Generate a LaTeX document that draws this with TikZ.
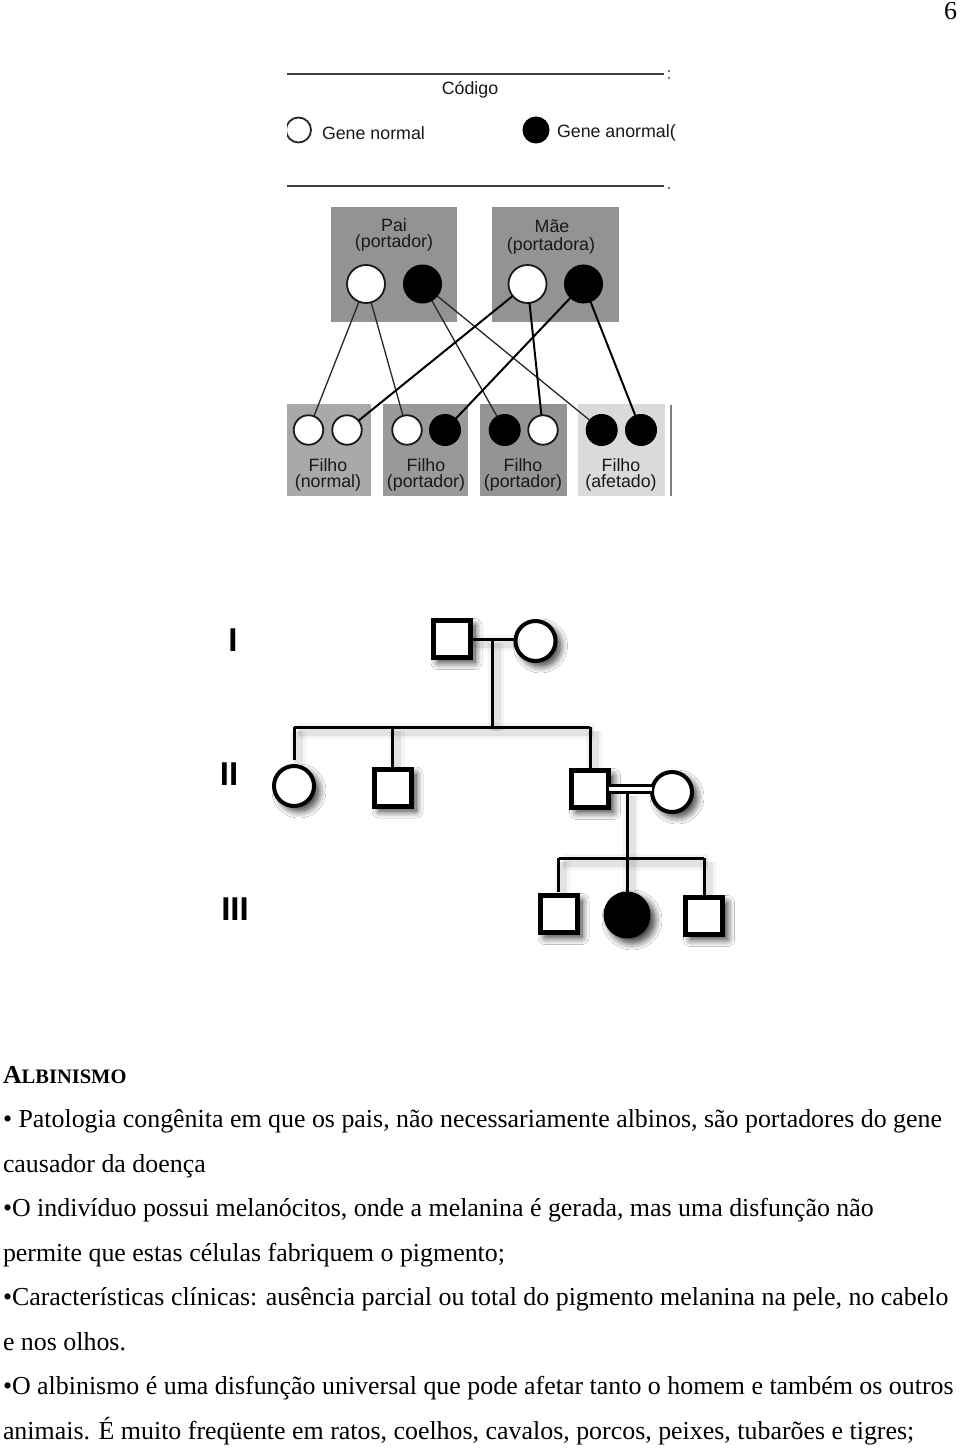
\documentclass[tikz,border=0pt]{standalone}
\usepackage{fontspec}
\setmainfont{Liberation Serif}
\newfontfamily\arialf{Liberation Sans}
\usetikzlibrary{shadows.blur}
\definecolor{boxpar}{HTML}{939393}
\definecolor{boxone}{HTML}{A9A9A9}
\definecolor{boxtwo}{HTML}{999999}
\definecolor{boxthree}{HTML}{949494}
\definecolor{boxfour}{HTML}{DADADA}
\begin{document}
\begin{tikzpicture}[x=1pt,y=-1pt,
  every node/.style={inner sep=0pt,outer sep=0pt},
  sh/.style={blur shadow={shadow xshift=5pt,shadow yshift=-5pt,shadow blur radius=7pt,shadow blur steps=10,shadow opacity=80}},
  male/.style={rectangle,draw=black,line width=5pt,fill=white,minimum size=37pt,sh},
  female/.style={circle,draw=black,line width=4pt,fill=white,minimum size=40pt,sh},
  affected/.style={circle,draw=black,line width=1pt,fill=black,minimum size=46pt,sh},
  lsh/.style={preaction={draw=black,line width=16pt,opacity=0.04,transform canvas={shift={(4pt,-4pt)}}},
              preaction={draw=black,line width=9pt,opacity=0.07,transform canvas={shift={(4pt,-4pt)}}}},
  pline/.style={line width=3pt,black,lsh},
  dline/.style={line width=2.5pt,black,double=white,double distance=4.5pt},
  gen/.style={font=\arialf\bfseries\fontsize{33}{33}\selectfont},
  pbox/.style={rectangle,fill=boxpar,minimum width=126pt,minimum height=115pt},
  cbox/.style={rectangle,minimum height=92pt},
  gw/.style={circle,draw=black!90,line width=1.8pt,fill=white},
  gb/.style={circle,draw=black,line width=1pt,fill=black},
  lbl/.style={font=\arialf\fontsize{17.8}{17.8}\selectfont,text=black!90},
  fline/.style={draw=black!85,line width=1.3pt},
  mline/.style={draw=black,line width=2pt},
  rule/.style={draw=black!75,line width=2pt},
  bodyt/.style={font=\fontsize{25.9}{25.9}\selectfont,anchor=base west}]
\useasboundingbox (0,0) rectangle (960,1450);
\fill[white] (0,0) rectangle (960,1450);

% page number
\node[font=\fontsize{25.9}{25.9}\selectfont,anchor=base east] (pg) at (957,20) {6};

% ===== legend =====
\coordinate (r1a) at (287,74); \coordinate (r1b) at (664,74);
\coordinate (r2a) at (287,186); \coordinate (r2b) at (664,186);
\draw[rule] (r1a) -- (r1b);
\draw[rule] (r2a) -- (r2b);
\fill[black!70] (669,71) circle (1.1); \fill[black!70] (669,78) circle (1.1);
\fill[black!70] (669,188) circle (1.1);
\node[lbl,anchor=base] (cod) at (470,95) {Código};
\begin{scope}
  \clip (287,100) rectangle (330,160);
  \draw[black!85,line width=1.8pt] (298.5,130) circle (12.5);
\end{scope}
\node[lbl,anchor=base west] (gn) at (322,140) {Gene normal};
\node[gb,minimum size=26pt] (ga) at (536,130) {};
\node[lbl,anchor=base west] (gan) at (557,138) {Gene anormal(};

% ===== boxes =====
\node[pbox] (pai) at (394,264.5) {};
\node[pbox,minimum width=127pt] (mae) at (555.5,264.5) {};
\node[cbox,fill=boxone,minimum width=84pt] (b1) at (329,450) {};
\node[cbox,fill=boxtwo,minimum width=85pt] (b2) at (425.5,450) {};
\node[cbox,fill=boxthree,minimum width=87pt] (b3) at (523.5,450) {};
\node[cbox,fill=boxfour,minimum width=87pt] (b4) at (621.5,450) {};
\coordinate (vb1) at (671,405); \coordinate (vb2) at (671,496);
\draw[black!50,line width=1.5pt] (vb1) -- (vb2);

\node[lbl,anchor=base] (tpai) at (394,231) {Pai};
\node[lbl,anchor=base] (tpai2) at (394,247) {(portador)};
\node[lbl,anchor=base] (tmae) at (552,233) {Mãe};
\node[lbl,anchor=base] (tmae2) at (551,250.5) {(portadora)};
\node[lbl,anchor=base] (f1) at (328,471) {Filho};
\node[lbl,anchor=base] (f1b) at (328,487) {(normal)};
\node[lbl,anchor=base] (f2) at (426,471) {Filho};
\node[lbl,anchor=base] (f2b) at (426,487) {(portador)};
\node[lbl,anchor=base] (f3) at (523,471) {Filho};
\node[lbl,anchor=base] (f3b) at (523,487) {(portador)};
\node[lbl,anchor=base] (f4) at (621,471) {Filho};
\node[lbl,anchor=base] (f4b) at (621,487) {(afetado)};

% gene circles
\node[gw,minimum size=38pt] (pw) at (366,284) {};
\node[gb,minimum size=38pt] (pb) at (422.5,284) {};
\node[gw,minimum size=38pt] (mw) at (527.5,284) {};
\node[gb,minimum size=38pt] (mb) at (583.5,284) {};
\node[gw,minimum size=29.5pt] (c1a) at (308.5,430) {};
\node[gw,minimum size=29.5pt] (c1b) at (347,430) {};
\node[gw,minimum size=29.5pt] (c2a) at (407,430) {};
\node[gb,minimum size=31pt] (c2b) at (445,430) {};
\node[gb,minimum size=31pt] (c3a) at (504.7,430) {};
\node[gw,minimum size=29.5pt] (c3b) at (543,430) {};
\node[gb,minimum size=31pt] (c4a) at (601.7,430) {};
\node[gb,minimum size=31pt] (c4b) at (641,430) {};

% inheritance lines
\draw[fline] (pw) -- (c1a);
\draw[fline] (pw) -- (c2a);
\draw[fline] (pb) -- (c3a);
\draw[fline] (pb) -- (c4a);
\draw[mline] (mw) -- (c1b);
\draw[mline] (mw) -- (c3b);
\draw[mline] (mb) -- (c2b);
\draw[mline] (mb) -- (c4b);

% ===== pedigree =====
\node[gen] (gI) at (233,640) {I};
\node[gen] (gII) at (229,774) {II};
\node[gen] (gIII) at (235,909) {III};

\coordinate (m1) at (492,639);
\coordinate (s1) at (492,727);
\coordinate (s1L) at (294,727);
\coordinate (s1B) at (392.5,727);
\coordinate (s1R) at (590,727);
\coordinate (m2) at (627,792);
\coordinate (s2) at (627,858);
\coordinate (s2L) at (558.5,858);
\coordinate (s2R) at (704,858);

\draw[pline] (m1) -- (s1);
\draw[pline] (s1L) -- (s1R);
\draw[pline] (m2) -- (s2);
\draw[pline] (s2L) -- (s2R);

\node[male] (i1) at (451.5,639) {};
\node[female] (i2) at (535.5,641) {};
\node[female] (ii1) at (294,786) {};
\node[male] (ii2) at (392.5,787.5) {};
\node[male] (ii3) at (590,789) {};
\node[female] (ii4) at (672,792) {};
\node[male] (iii1) at (558.5,914) {};
\node[affected] (iii2) at (627,915) {};
\node[male] (iii3) at (704,916) {};

\draw[pline] (i1) -- (i1 -| i2.west);
\draw[pline,shorten >=6pt] (s1L) -- (ii1);
\draw[pline,shorten >=2pt] (s1B) -- (ii2);
\draw[pline,shorten >=2pt] (s1R) -- (ii3);
\draw[dline] (ii3.east) -- (ii3.east -| ii4.west);
\draw[pline,shorten >=4pt] (s2L) -- (iii1);
\draw[pline] (s2) -- (iii2);
\draw[pline,shorten >=3pt] (s2R) -- (iii3);

% ===== text =====
\node[bodyt] (t0) at (3,1083) {\bfseries A{\fontsize{20.5}{20.5}\selectfont LBINISMO}};
\node[bodyt] (t1) at (3,1127.5) {• Patologia congênita em que os pais, não necessariamente albinos, são portadores do gene};
\node[bodyt] (t2) at (3,1172) {causador da doença};
\node[bodyt] (t3) at (3,1216.5) {•O indivíduo possui melanócitos, onde a melanina é gerada, mas uma disfunção não};
\node[bodyt] (t4) at (3,1261) {permite que estas células fabriquem o pigmento;};
\node[bodyt] (t5) at (3,1305.5) {•Características clínicas: ausência parcial ou total do pigmento melanina na pele, no cabelo};
\node[bodyt] (t6) at (3,1350) {e nos olhos.};
\node[bodyt] (t7) at (3,1394.5) {•O albinismo é uma disfunção universal que pode afetar tanto o homem e também os outros};
\node[bodyt] (t8) at (3,1439) {animais. É muito freqüente em ratos, coelhos, cavalos, porcos, peixes, tubarões e tigres;};
\end{tikzpicture}
\end{document}
